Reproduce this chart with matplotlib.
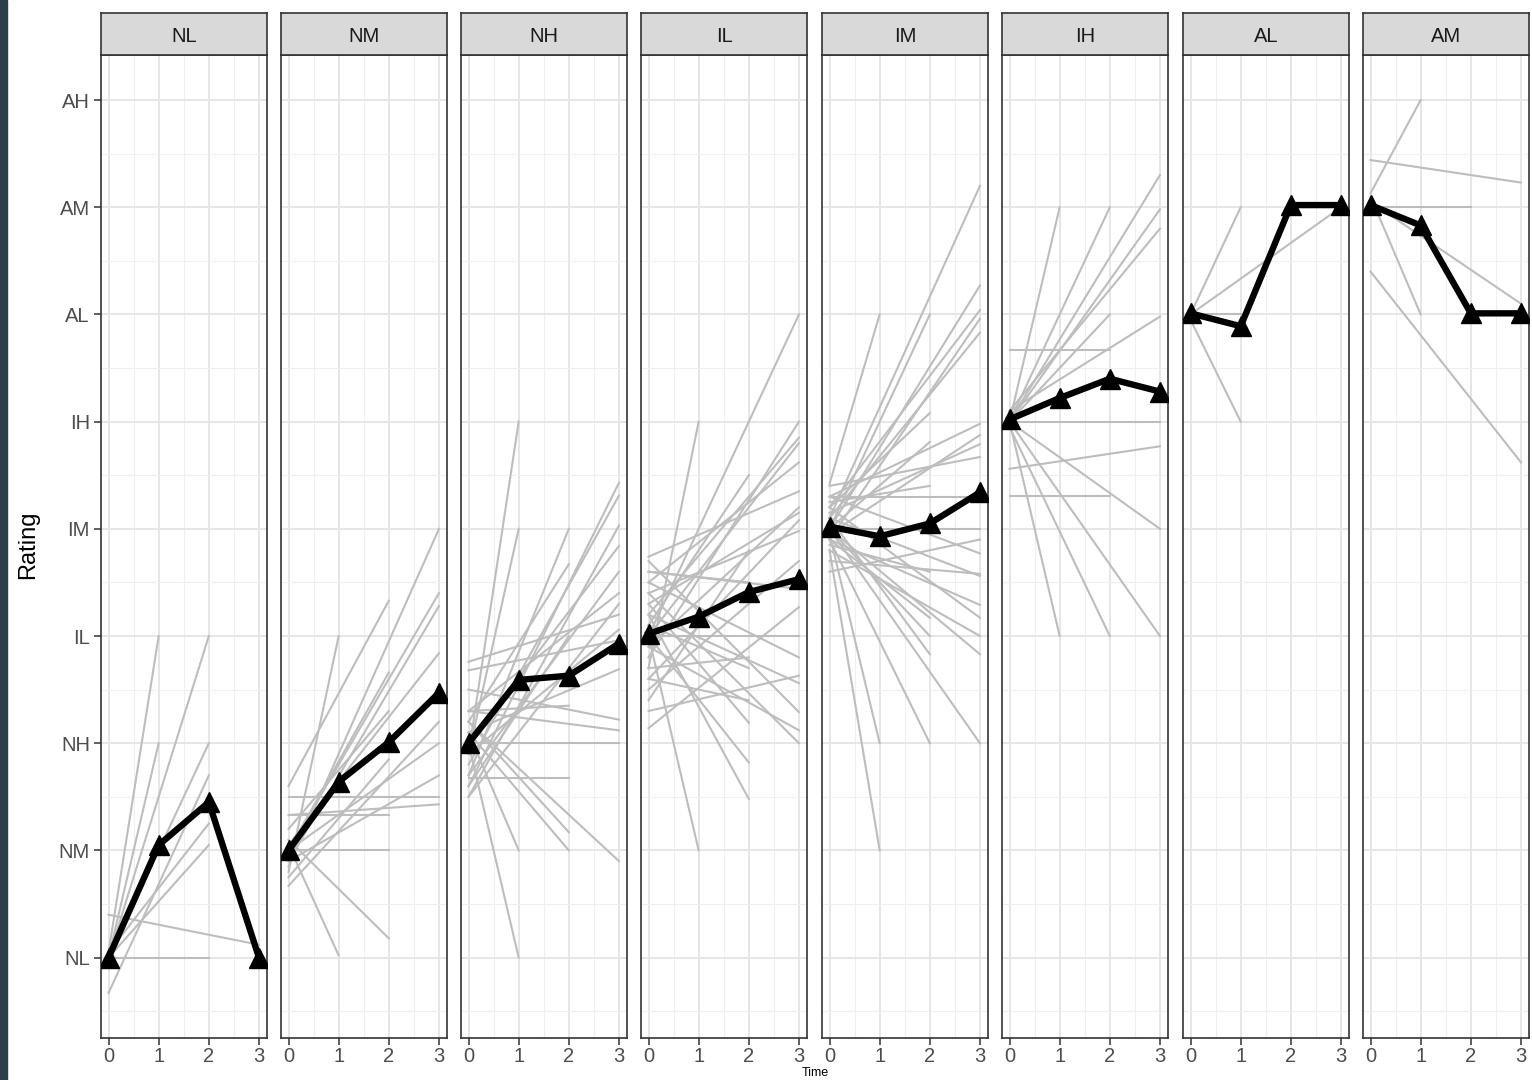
import matplotlib.pyplot as plt
from matplotlib.patches import Rectangle

plt.rcParams['font.family'] = ['Liberation Sans', 'DejaVu Sans']

# rating scale, NL = 1 ... AH = 9
levels = ["NL", "NM", "NH", "IL", "IM", "IH", "AL", "AM", "AH"]
facets = ["NL", "NM", "NH", "IL", "IM", "IH", "AL", "AM"]
times = [0, 1, 2, 3]

# mean rating of each starting group at time 0..3
mean_nl = [1.0, 2.05, 2.45, 1.0]
mean_nm = [2.0, 2.64, 3.01, 3.47]
mean_nh = [3.0, 3.59, 3.63, 3.93]
mean_il = [4.02, 4.18, 4.41, 4.53]
mean_im = [5.02, 4.93, 5.05, 5.34]
mean_ih = [6.02, 6.22, 6.40, 6.28]
mean_al = [7.01, 6.89, 8.02, 8.02]
mean_am = [8.02, 7.83, 7.01, 7.01]

# individual trajectories: (rating at time 0, last time, rating at last time)
lines_nl = [(1.05, 1, 4.0), (1.0, 1, 3.0), (1.0, 2, 4.0), (1.0, 2, 3.0),
            (0.67, 2, 2.7), (1.05, 2, 2.25), (1.0, 2, 2.05), (1.4, 3, 1.12),
            (1.0, 2, 1.0)]
lines_nm = [(1.85, 3, 5.0), (2.6, 2, 4.33), (2.0, 3, 4.4), (1.9, 3, 4.28),
            (1.8, 1, 4.0), (2.05, 3, 3.84), (2.0, 2, 3.66), (2.0, 3, 3.0),
            (1.9, 3, 2.7), (2.5, 3, 2.5), (2.33, 3, 2.43), (2.33, 2, 2.33),
            (2.0, 2, 2.0), (1.75, 2, 2.85), (2.1, 2, 1.18), (2.05, 1, 1.02),
            (1.67, 3, 3.2), (2.2, 2, 3.3)]
lines_nh = [(2.9, 1, 6.0), (2.9, 1, 5.0), (2.7, 2, 5.0), (2.6, 3, 5.43),
            (2.8, 3, 5.31), (2.5, 3, 5.03), (3.2, 2, 4.67), (3.0, 3, 4.84),
            (2.7, 3, 4.6), (3.3, 3, 4.4), (3.76, 3, 4.2), (2.9, 3, 4.06),
            (3.68, 3, 3.96), (3.5, 3, 3.22), (3.3, 3, 3.12), (3.0, 3, 3.0),
            (3.3, 2, 3.35), (2.68, 2, 2.68), (3.1, 1, 2.0), (3.1, 2, 2.0),
            (3.2, 2, 2.17), (3.2, 3, 1.9), (3.0, 1, 1.0), (2.5, 3, 4.3),
            (2.6, 2, 4.0), (3.1, 3, 3.69)]
lines_il = [(4.0, 3, 7.0), (3.7, 1, 6.0), (3.8, 3, 6.0), (4.2, 3, 5.85),
            (4.0, 3, 5.8), (4.5, 3, 5.62), (4.1, 2, 5.5), (4.74, 3, 5.35),
            (3.9, 3, 5.2), (4.3, 3, 5.15), (3.6, 3, 5.08), (4.4, 3, 4.98),
            (3.5, 3, 4.7), (4.6, 3, 4.44), (3.14, 3, 4.27), (4.0, 3, 4.0),
            (4.5, 3, 3.8), (3.3, 3, 3.63), (4.2, 3, 3.56), (4.7, 3, 3.29),
            (3.9, 3, 3.12), (4.4, 3, 3.0), (4.1, 2, 3.7), (3.6, 2, 3.4),
            (4.3, 2, 3.19), (4.0, 2, 2.82), (4.2, 2, 2.48), (4.0, 1, 2.0),
            (3.7, 2, 3.8), (4.6, 2, 4.5), (3.4, 2, 4.8)]
lines_im = [(5.1, 3, 8.2), (5.0, 3, 7.27), (5.2, 3, 7.04), (4.9, 3, 6.96),
            (5.1, 3, 6.83), (5.42, 1, 7.0), (5.0, 2, 7.0), (5.2, 2, 6.08),
            (5.0, 2, 5.81), (5.3, 3, 5.98), (4.95, 3, 5.875), (5.15, 3, 5.79),
            (5.4, 3, 5.67), (5.0, 3, 5.0), (5.3, 3, 4.77), (4.7, 3, 4.58),
            (5.1, 3, 4.56), (4.9, 3, 4.29), (5.2, 3, 4.17), (4.8, 3, 4.0),
            (5.0, 3, 3.83), (5.1, 2, 3.83), (4.9, 2, 4.17), (5.0, 2, 4.0),
            (5.0, 3, 3.0), (4.9, 2, 3.0), (4.95, 1, 3.0), (4.8, 1, 2.0),
            (4.6, 3, 4.9), (5.3, 3, 5.3), (5.25, 2, 5.4), (4.85, 2, 4.6)]
lines_ih = [(6.0, 1, 8.0), (6.0, 2, 8.0), (6.0, 3, 8.3), (6.0, 3, 7.98),
            (6.1, 3, 7.8), (6.0, 2, 7.0), (6.1, 3, 6.98), (6.67, 2, 6.67),
            (6.0, 3, 6.0), (5.56, 3, 5.77), (5.31, 2, 5.31), (6.0, 3, 5.0),
            (6.0, 1, 4.0), (5.95, 2, 4.0), (6.0, 3, 4.0)]
lines_al = [(7.0, 1, 8.0), (6.95, 1, 6.0), (7.0, 3, 8.0), (7.0, 1, 7.0)]
lines_am = [(8.13, 1, 9.0), (8.44, 3, 8.23), (8.0, 2, 8.0), (8.1, 1, 7.0),
            (8.05, 3, 7.1), (7.4, 3, 5.62)]

means = [mean_nl, mean_nm, mean_nh, mean_il, mean_im, mean_ih, mean_al, mean_am]
trajectories = [lines_nl, lines_nm, lines_nh, lines_il, lines_im, lines_ih,
                lines_al, lines_am]

W, H = 1532, 1080
fig = plt.figure(figsize=(W / 100, H / 100), dpi=100)
fig.patches.append(Rectangle((0, 0), 7 / W, 1, transform=fig.transFigure,
                             color="#2d3e4b", zorder=-1))

panel_left = [101, 281, 461, 641, 822, 1002, 1183, 1363]
panel_w = 166
panel_top, panel_bot, strip_top = 55, 1038, 13
edge = "#333333"

for i, name in enumerate(facets):
    ax = fig.add_axes([panel_left[i] / W, 1 - panel_bot / H,
                       panel_w / W, (panel_bot - panel_top) / H])
    for y0, t1, y1 in trajectories[i]:
        ax.plot([0, t1], [y0, y1], color="#bdbdbd", lw=1.5, zorder=2)
    ax.plot(times, means[i], color="black", lw=4.6, marker="^",
            markersize=14, zorder=3)

    ax.set_xlim(-0.15, 3.16)
    ax.set_ylim(0.25, 9.42)
    ax.set_xticks(times)
    ax.set_xticks([0.5, 1.5, 2.5], minor=True)
    ax.set_yticks(range(1, 10))
    ax.set_yticks([0.5 + k for k in range(1, 9)] + [0.5], minor=True)
    ax.grid(which="major", color="#e4e4e4", lw=1.3)
    ax.grid(which="minor", color="#efefef", lw=0.8)
    ax.set_axisbelow(True)
    ax.tick_params(which="minor", length=0)
    ax.tick_params(which="major", length=5, width=1.1, color=edge,
                   labelsize=14.5, labelcolor="#4d4d4d", pad=3)
    ax.tick_params(axis="x", pad=1.5)
    if i == 0:
        ax.set_yticklabels(levels)
    else:
        ax.tick_params(axis="y", which="major", length=0, labelleft=False)
    for s in ax.spines.values():
        s.set_color(edge)
        s.set_linewidth(1.2)

    strip = fig.add_axes([panel_left[i] / W, 1 - panel_top / H,
                          panel_w / W, (panel_top - strip_top) / H])
    strip.set_facecolor("#d9d9d9")
    strip.set_xticks([])
    strip.set_yticks([])
    for s in strip.spines.values():
        s.set_color(edge)
        s.set_linewidth(1.2)
    strip.text(0.5, 0.45, name, ha="center", va="center", fontsize=14.5,
               color="#1a1a1a", transform=strip.transAxes)

fig.text(28 / W, 1 - 545 / H, "Rating", rotation=90, ha="center",
         va="center", fontsize=17, color="black")
fig.text(815 / W, 0.5 / H, "Time", ha="center", va="bottom",
         fontsize=9, color="black")

fig.savefig("out.png", dpi=100)
